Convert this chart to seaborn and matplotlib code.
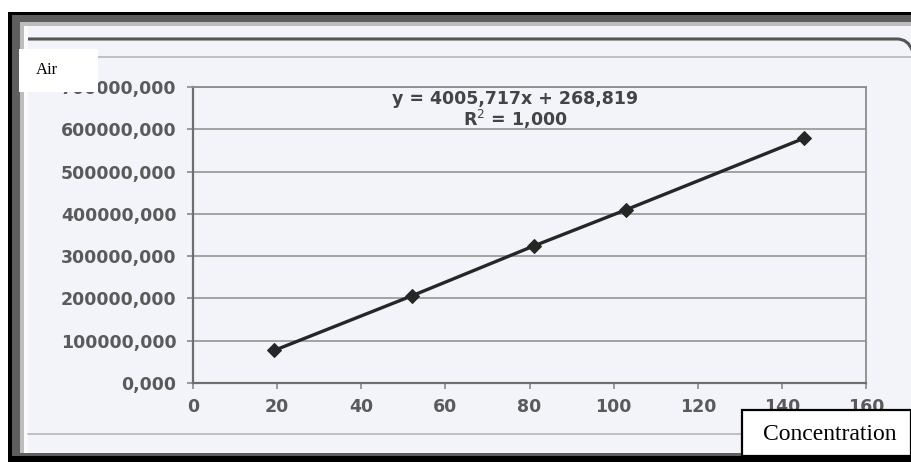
import numpy as np
import pandas as pd
import seaborn as sns
import matplotlib
matplotlib.use("Agg")
import matplotlib.pyplot as plt
from matplotlib.patches import Rectangle, PathPatch
from matplotlib.path import Path

# Calibration data: concentration vs. measured response
concentration = [19.3, 52.0, 81.0, 102.9, 145.2]
response = [77000, 206000, 324000, 409500, 578500]

x_ticks = [0, 20, 40, 60, 80, 100, 120, 140, 160]
y_ticks = [0, 100000, 200000, 300000, 400000, 500000, 600000, 700000]

equation_text = "y = 4005,717x + 268,819"
r2_text = "R$^2$ = 1,000"
corner_label = "Air"
x_label = "Concentration"

W, H = 912, 462
DPI = 100

sns.set_theme(style="white")
plt.rcParams["font.family"] = ["DejaVu Sans"]

fig = plt.figure(figsize=(W / DPI, H / DPI), dpi=DPI)
fig.patch.set_facecolor("white")


def fx(px):
    return px / W


def fy(py):
    return 1 - py / H


def frect(x0, y0, x1, y1, **kw):
    r = Rectangle((fx(x0), fy(y1)), fx(x1) - fx(x0), fy(y0) - fy(y1),
                  transform=fig.transFigure, **kw)
    fig.patches.append(r)
    return r


# Page frame: layered dark border around the light sheet
paper = "#f3f4f9"
frect(8, 12, W, H, facecolor="black", edgecolor="none", zorder=-10)
frect(12, 15, W, 456, facecolor="#5e5e5e", edgecolor="none", zorder=-9)
frect(20, 22, W, 453, facecolor="#bdbdbd", edgecolor="none", zorder=-8)
frect(24, 26, W, 453, facecolor="#fbfbfd", edgecolor="none", zorder=-7)
frect(28, 26, W, 453, facecolor=paper, edgecolor="none", zorder=-6)

# Chart-area outline lines of the sheet (rounded at the top right)
verts = [(fx(28), fy(39)), (fx(897), fy(39)), (fx(908), fy(39)), (fx(912), fy(50))]
codes = [Path.MOVETO, Path.LINETO, Path.CURVE3, Path.CURVE3]
fig.patches.append(PathPatch(Path(verts, codes), transform=fig.transFigure,
                             facecolor="none", edgecolor="#555555", lw=2.2, zorder=-5))
fig.lines.append(plt.Line2D([fx(28), fx(W)], [fy(57), fy(57)], transform=fig.transFigure,
                            color="#b4b6bc", lw=1.2, zorder=-5))
fig.lines.append(plt.Line2D([fx(28), fx(W)], [fy(434), fy(434)], transform=fig.transFigure,
                            color="#b4b6bc", lw=1.2, zorder=-5))

# Plot area
ax = fig.add_axes([fx(193), fy(383), fx(866) - fx(193), fy(87) - fy(383)])
ax.set_facecolor("none")

df = pd.DataFrame({"conc": concentration, "resp": response})
sns.lineplot(data=df, x="conc", y="resp", ax=ax, color="#262626", lw=2.4,
             marker="D", markersize=7, markeredgecolor="#262626",
             markerfacecolor="#262626", zorder=5)

ax.set_xlim(0, 160)
ax.set_ylim(0, 700000)
ax.set_xticks(x_ticks)
ax.set_yticks(y_ticks)
ax.set_xticklabels([str(t) for t in x_ticks], fontweight="bold")
ax.set_yticklabels([f"{t:.3f}".replace(".", ",") for t in y_ticks], fontweight="bold")
ax.set_xlabel("")
ax.set_ylabel("")

ax.yaxis.grid(True, color="#8c8c8c", lw=1.1)
ax.xaxis.grid(False)
ax.set_axisbelow(True)

for side in ["left", "bottom"]:
    ax.spines[side].set_color("#6e6e6e")
    ax.spines[side].set_linewidth(1.6)
for side in ["top", "right"]:
    ax.spines[side].set_color("#8c8c8c")
    ax.spines[side].set_linewidth(1.3)
    ax.spines[side].set_visible(True)

ax.tick_params(axis="y", which="major", direction="out", length=4, width=1.2,
               color="#8a8a8a", pad=8, labelsize=12.5, labelcolor="#5a5a5a", left=True)
ax.tick_params(axis="x", which="major", direction="out", length=4, width=1.2,
               color="#8a8a8a", pad=7, labelsize=12.5, labelcolor="#5a5a5a", bottom=True)

# Trendline equation
fig.text(fx(515), fy(99), equation_text, ha="center", va="center",
         fontsize=12.5, fontweight="bold", color="#444444")
fig.text(fx(515), fy(119), r2_text, ha="center", va="center",
         fontsize=12.5, fontweight="bold", color="#444444")

# Label boxes
frect(19, 49, 98, 92, facecolor="white", edgecolor="none", zorder=10)
fig.text(fx(36), fy(70), corner_label, ha="left", va="center", fontsize=12,
         family=["Liberation Serif"], color="black", zorder=11)

frect(742, 410, 911, 456, facecolor="white", edgecolor="black", lw=1.6, zorder=10)
fig.text(fx(830), fy(434), x_label, ha="center", va="center", fontsize=17,
         family=["Liberation Serif"], color="black", zorder=11)

fig.savefig("out.png", dpi=DPI, facecolor=fig.get_facecolor())
